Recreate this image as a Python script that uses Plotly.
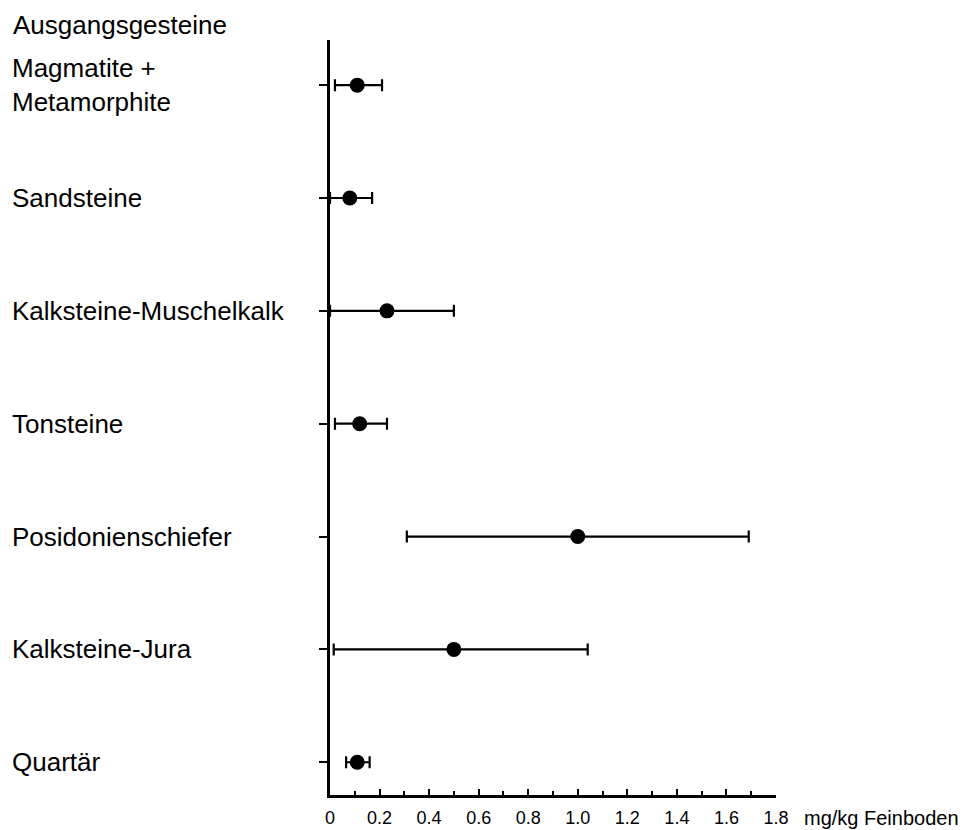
import plotly.graph_objects as go

# Data (top to bottom as in the reference)
categories = ["Magmatite +<br>Metamorphite", "Sandsteine", "Kalksteine-Muschelkalk",
              "Tonsteine", "Posidonienschiefer", "Kalksteine-Jura", "Quartär"]
means = [0.11, 0.08, 0.23, 0.12, 1.00, 0.50, 0.11]
lows = [0.02, 0.00, 0.00, 0.02, 0.31, 0.015, 0.065]
highs = [0.21, 0.17, 0.50, 0.23, 1.69, 1.04, 0.16]

tick_vals = [0, 0.2, 0.4, 0.6, 0.8, 1.0, 1.2, 1.4, 1.6, 1.8]
tick_text = ["0", "0.2", "0.4", "0.6", "0.8", "1.0", "1.2", "1.4", "1.6", "1.8"]

FONT = "Liberation Sans, Arial, Helvetica, sans-serif"

# bottom-to-top order for the y axis
cat_order = categories[::-1]

fig = go.Figure()
fig.add_trace(go.Scatter(
    x=means,
    y=categories,
    mode="markers",
    marker=dict(color="black", size=15, symbol="circle"),
    error_x=dict(
        type="data",
        symmetric=False,
        array=[h - m for h, m in zip(highs, means)],
        arrayminus=[m - l for m, l in zip(means, lows)],
        color="black",
        thickness=2.2,
        width=6,
    ),
    cliponaxis=False,
    showlegend=False,
))

annotations = []
for c in categories:
    annotations.append(dict(
        text=c, xref="paper", x=0, xanchor="left", xshift=-320,
        yref="y", y=c, yanchor="middle", showarrow=False, align="left",
        font=dict(family=FONT, size=26, color="black"),
    ))
annotations.append(dict(
    text="Ausgangsgesteine", xref="paper", x=0, xanchor="left", xshift=-319,
    yref="paper", y=1, yanchor="bottom", yshift=-2, showarrow=False,
    font=dict(family=FONT, size=26, color="black"),
))
annotations.append(dict(
    text="mg/kg Feinboden", xref="paper", x=1, xanchor="left", xshift=26,
    yref="paper", y=0, yanchor="middle", yshift=-23, showarrow=False,
    font=dict(family=FONT, size=20, color="black"),
))

fig.update_layout(
    width=963, height=822,
    margin=dict(l=322, r=195, t=32, b=35),
    paper_bgcolor="white", plot_bgcolor="white",
    font=dict(family=FONT, color="black"),
    annotations=annotations,
    xaxis=dict(
        range=[0, 1.8],
        tickvals=tick_vals, ticktext=tick_text,
        ticks="inside", ticklen=6, tickwidth=1.5, tickcolor="black",
        minor=dict(dtick=0.1, ticks="inside", ticklen=4, tickwidth=1.5, tickcolor="black"),
        showline=True, linecolor="black", linewidth=2.5,
        showgrid=False, zeroline=False,
        tickfont=dict(family=FONT, size=18, color="black"),
        ticklabelstandoff=5,
        automargin=False,
    ),
    yaxis=dict(
        type="category",
        categoryorder="array", categoryarray=cat_order,
        range=[-0.29, 6.4],
        showticklabels=False,
        ticks="outside", ticklen=8, tickwidth=2, tickcolor="black",
        showline=True, linecolor="black", linewidth=2.5,
        showgrid=False, zeroline=False,
        automargin=False,
    ),
)

fig.write_html("out.html")
